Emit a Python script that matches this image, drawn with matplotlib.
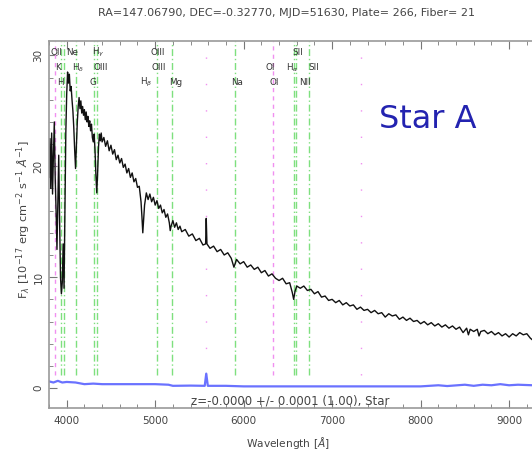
import matplotlib
matplotlib.use("Agg")
import matplotlib.pyplot as plt
import matplotlib.transforms as mtransforms
from matplotlib.ticker import MultipleLocator

# spectrum (wavelength in A, flux in 1e-17 erg/cm2/s/A)
wave = [3800, 3810, 3820, 3830, 3840, 3850, 3860, 3870, 3880, 3890,
        3900, 3910, 3920, 3930, 3940, 3950, 3960, 3970, 3980, 3990,
        4000, 4010, 4020, 4030, 4040, 4050, 4060, 4070, 4080, 4090,
        4100, 4110, 4120, 4130, 4140, 4150, 4160, 4170, 4180, 4190,
        4200, 4210, 4220, 4230, 4240, 4250, 4260, 4270, 4280, 4290,
        4300, 4310, 4320, 4330, 4340, 4350, 4360, 4370, 4380, 4390,
        4400, 4420, 4440, 4460, 4480, 4500, 4520, 4540, 4560, 4580,
        4600, 4620, 4640, 4660, 4680, 4700, 4720, 4740, 4760, 4780,
        4800, 4820, 4840, 4850, 4860, 4870, 4880, 4900, 4920, 4940,
        4960, 4980, 5000, 5020, 5040, 5060, 5080, 5100, 5120, 5140,
        5160, 5170, 5180, 5200, 5220, 5240, 5260, 5280, 5300, 5340,
        5380, 5420, 5460, 5500, 5540, 5570, 5577, 5585, 5620, 5660,
        5700, 5740, 5780, 5820, 5860, 5890, 5920, 5960, 6000, 6040,
        6080, 6120, 6160, 6200, 6240, 6280, 6320, 6360, 6400, 6440,
        6480, 6520, 6550, 6565, 6580, 6600, 6640, 6680, 6720, 6760,
        6800, 6840, 6880, 6920, 6960, 7000, 7040, 7080, 7120, 7160,
        7200, 7240, 7280, 7320, 7360, 7400, 7440, 7480, 7520, 7560,
        7600, 7640, 7680, 7720, 7760, 7800, 7840, 7880, 7920, 7960,
        8000, 8040, 8080, 8120, 8160, 8200, 8240, 8280, 8320, 8360,
        8400, 8440, 8480, 8520, 8540, 8560, 8600, 8640, 8660, 8680,
        8720, 8760, 8800, 8840, 8880, 8920, 8960, 9000, 9040, 9080,
        9120, 9160, 9200, 9240, 9270]
flux = [19.0, 22.5, 18.0, 23.0, 17.5, 21.0, 24.0, 19.0, 16.0, 12.5,
        17.0, 21.0, 15.0, 10.0, 8.5, 9.5, 13.0, 9.0, 16.0, 23.0,
        26.5, 28.5, 27.5, 28.3, 26.8, 27.2, 26.0, 25.0, 23.5, 21.5,
        19.8, 21.8, 24.0, 25.4, 26.2, 25.2, 25.9, 24.8, 25.4, 24.6,
        25.1, 24.2, 24.9, 24.0, 24.5, 23.6, 24.1, 23.2, 23.8, 22.6,
        22.2, 22.9, 21.5, 19.2, 17.6, 19.5, 21.8, 22.9, 22.3, 23.0,
        22.2, 22.6, 21.8, 22.3, 21.4, 21.9, 21.1, 21.5, 20.6, 21.0,
        20.3, 20.7, 19.9, 20.2, 19.4, 19.8, 19.0, 19.4, 18.6, 18.9,
        18.1, 18.2, 16.8, 15.5, 14.0, 15.2, 16.5, 17.6, 17.0, 17.5,
        16.8, 17.2, 16.5, 16.9, 16.2, 16.5, 15.8, 16.1, 15.4, 15.7,
        14.9, 14.2, 14.6, 15.1, 14.5, 14.9, 14.3, 14.6, 14.1, 14.3,
        13.7, 13.9, 13.3, 13.5, 12.9, 13.0, 15.3, 13.0, 12.6, 12.8,
        12.3, 12.5, 12.0, 12.2, 11.7, 10.9, 11.6, 11.2, 11.4, 10.9,
        11.1, 10.7, 10.9, 10.4, 10.6, 10.1, 10.3, 9.9, 9.7, 9.9,
        9.4, 9.5, 8.6, 8.0, 8.7, 9.2, 9.0, 9.2, 8.8, 8.9,
        8.5, 8.7, 8.2, 8.3, 7.9, 8.0, 7.7, 7.9, 7.5, 7.7,
        7.4, 7.5, 7.1, 7.3, 7.0, 7.1, 6.8, 7.0, 6.7, 6.8,
        6.4, 6.7, 6.5, 6.6, 6.2, 6.4, 6.1, 6.3, 6.0, 6.1,
        5.8, 6.0, 5.7, 5.9, 5.6, 5.8, 5.5, 5.7, 5.4, 5.6,
        5.3, 5.5, 5.0, 5.4, 4.8, 5.3, 5.1, 5.3, 4.7, 5.1,
        5.2, 4.9, 5.1, 4.8, 5.0, 4.7, 4.9, 4.6, 4.9, 4.7,
        5.0, 4.8, 4.9, 4.5, 4.3]

# error spectrum (blue)
err_wave = [3800, 3850, 3900, 3950, 4000, 4100, 4200, 4300, 4400, 4600,
            4800, 5000, 5150, 5200, 5400, 5560, 5577, 5595, 5800, 6000,
            6400, 7000, 7500, 8000, 8200, 8300, 8500, 8600, 8700, 8800,
            8900, 9000, 9100, 9270]
err_flux = [0.6, 0.5, 0.65, 0.5, 0.55, 0.5, 0.35, 0.4, 0.35, 0.35,
            0.35, 0.35, 0.3, 0.2, 0.22, 0.2, 1.3, 0.2, 0.2, 0.15,
            0.15, 0.15, 0.15, 0.15, 0.25, 0.18, 0.3, 0.2, 0.3, 0.25,
            0.35, 0.25, 0.3, 0.25]

abs_lines = [3934, 3969, 4102, 4305, 4341, 5015, 5195, 5905, 6565, 6590, 6740]
em_lines = [3869, 6330]
sky_lines = [5577, 7325]

label_text = ["OII", "Ne", "H$_\\gamma$", "OIII", "SII",
              "K", "H$_\\delta$", "OIII", "OIII", "OI", "H$_\\alpha$", "SII",
              "H", "G", "H$_\\beta$", "Mg", "Na", "OI", "NII"]
label_wave = [3880, 4060, 4355, 5023, 6610,
              3900, 4130, 4380, 5036, 6300, 6550, 6790,
              3925, 4298, 4900, 5227, 5920, 6350, 6690]
label_row = [0, 0, 0, 0, 0,
             1, 1, 1, 1, 1, 1, 1,
             2, 2, 2, 2, 2, 2, 2]

W, H = 532, 454
fig = plt.figure(figsize=(W / 100, H / 100), dpi=100)
ax = fig.add_axes([49 / W, 46 / H, 484 / W, 367 / H])

ax.set_xlim(3800, 9270)
ax.set_ylim(-1.8, 31.3)

green = "#7ee07e"
magenta = "#f090f0"
ax.vlines(abs_lines, 1.2, 31.3, colors=green, linewidth=1.0, linestyles=(0, (5, 2, 1, 2)))
ax.vlines(em_lines, 1.2, 31.3, colors=magenta, linewidth=1.0, linestyles=(0, (3, 3)))
ax.vlines(sky_lines, 1.2, 31.3, colors=magenta, linewidth=1.0, linestyles=(0, (1, 18)))

ax.plot(err_wave, err_flux, color="#6a72ff", linewidth=1.6)
ax.plot(wave, flux, color="#111111", linewidth=1.0)

trans = mtransforms.blended_transform_factory(ax.transData, ax.transAxes)
row_y = [0.968, 0.928, 0.888]
for t, w, r in zip(label_text, label_wave, label_row):
    ax.text(w, row_y[r], t, transform=trans, fontsize=6.3, color="#333333",
            ha="center", va="center")

for s in ax.spines.values():
    s.set_color("#9a9a9a")
    s.set_linewidth(1.2)

ax.xaxis.set_major_locator(MultipleLocator(1000))
ax.xaxis.set_minor_locator(MultipleLocator(200))
ax.yaxis.set_major_locator(MultipleLocator(10))
ax.yaxis.set_minor_locator(MultipleLocator(2))
ax.tick_params(which="both", direction="in", top=True, right=False,
               color="#777777", labelsize=7.5, labelcolor="#444444")
ax.tick_params(which="major", length=6)
ax.tick_params(which="minor", length=3)
ax.tick_params(axis="x", pad=6)
ax.tick_params(axis="y", labelrotation=90, pad=4)
for lab in ax.get_yticklabels():
    lab.set_va("center")

fig.text(286 / W, 1 - 13 / H,
         "RA=147.06790, DEC=-0.32770, MJD=51630, Plate= 266, Fiber= 21",
         fontsize=8, color="#444444", ha="center", va="center")
fig.text(24 / W, 1 - 220 / H,
         "F$_\\lambda$ [10$^{-17}$ erg cm$^{-2}$ s$^{-1}$ $\\AA^{-1}$]",
         fontsize=8.2, color="#444444", rotation=90, ha="center", va="center")
fig.text(288 / W, 1 - 443 / H, "Wavelength [$\\AA$]",
         fontsize=7.7, color="#444444", ha="center", va="center")
fig.text(290 / W, 1 - 401 / H, "z=-0.0000 +/- 0.0001 (1.00), Star",
         fontsize=8.5, color="#444444", ha="center", va="center")
fig.text(428 / W, 1 - 120 / H, "Star A", fontsize=23, color="#2323b0",
         ha="center", va="center")

fig.savefig("out.png", dpi=100)
